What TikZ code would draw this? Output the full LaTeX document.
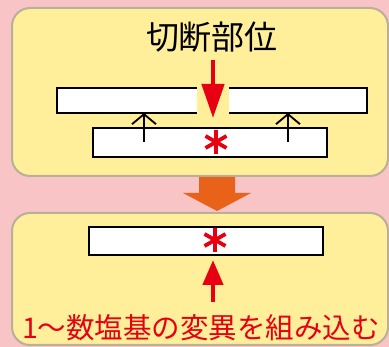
\documentclass[tikz,border=0pt]{standalone}
\usepackage{fontspec}
\newfontfamily\jpfont{Noto Sans CJK JP}
\usetikzlibrary{arrows.meta}
\definecolor{bgpink}{HTML}{F8C4C6}
\definecolor{boxyellow}{HTML}{FFEF9A}
\definecolor{boxedge}{HTML}{B8B098}
\definecolor{mred}{HTML}{E60012}
\definecolor{morange}{HTML}{E8621A}
\tikzset{
  panel/.style={fill=boxyellow, draw=boxedge, line width=2pt, rounded corners=18pt},
  strand/.style={fill=white, draw=black, line width=1.8pt},
  pairarrow/.style={draw=black, line width=1.8pt, -{Straight Barb[length=10pt,width=24pt]}},
  redarrow/.style={draw=mred, line width=4.5pt},
  ast/.pic={\draw[mred, line width=3.8pt] (0,-12) -- (0,12) (-10.5,-6) -- (10.5,6) (-10.5,6) -- (10.5,-6);}
}
\begin{document}
\begin{tikzpicture}[x=1pt,y=-1pt]
\fill[bgpink] (0,0) rectangle (389,347);
\useasboundingbox (0,0) rectangle (389,347);
% panels
\draw[panel] (12,8) rectangle (388,176);
\draw[panel] (12,213) rectangle (388,345);
% title
\node[font=\jpfont\fontsize{33}{33}\selectfont, inner sep=0pt] (title) at (212,37) {切断部位};
% upper strands (cut)
\filldraw[strand] (197,88) -- (57,88) -- (57,113) -- (197,113);
\filldraw[strand] (229,88) -- (367,88) -- (367,113) -- (229,113);
% lower strand
\filldraw[strand] (93,128) rectangle (327,157);
% pairing arrows
\coordinate (pa1) at (144,142); \coordinate (pb1) at (144,113);
\coordinate (pa2) at (288,142); \coordinate (pb2) at (288,113);
\draw[pairarrow] (pa1) -- (pb1);
\draw[pairarrow] (pa2) -- (pb2);
% cut arrow
\coordinate (cutTop) at (213,60); \coordinate (cutTip) at (213,118);
\draw[redarrow, -{Triangle[length=34pt,width=22pt]}] (cutTop) -- (cutTip);
% asterisk upper
\pic at (216,142) {ast};
% orange arrow
\fill[morange] (199,177) -- (235,177) -- (235,193) -- (251,193) -- (217,211) -- (183,193) -- (199,193) -- cycle;
% result strand
\filldraw[strand] (89,227) rectangle (323,255);
\pic at (215,240) {ast};
\coordinate (mutBase) at (213,302); \coordinate (mutTip) at (213,260);
\draw[redarrow, -{Triangle[length=25pt,width=20pt]}] (mutBase) -- (mutTip);
% note
\node[text=mred, font=\jpfont\fontsize{28.5}{28.5}\selectfont, inner sep=0pt] (note) at (201,328) {1～数塩基の変異を組み込む};
\end{tikzpicture}
\end{document}
